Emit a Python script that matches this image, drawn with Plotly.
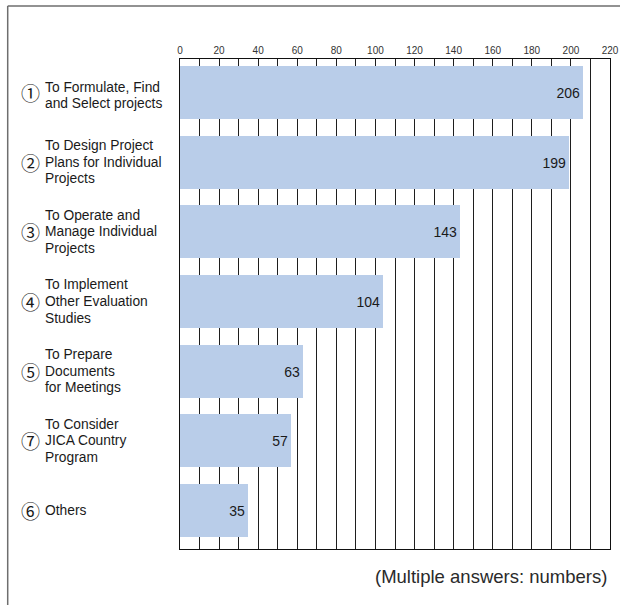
import plotly.graph_objects as go

# ---- data ----
numbers = ["①", "②", "③", "④", "⑤", "⑦", "⑥"]
labels = [
    "To Formulate, Find<br>and Select projects",
    "To Design Project<br>Plans for Individual<br>Projects",
    "To Operate and<br>Manage Individual<br>Projects",
    "To Implement<br>Other Evaluation<br>Studies",
    "To Prepare<br>Documents<br>for Meetings",
    "To Consider<br>JICA Country<br>Program",
    "Others",
]
values = [206, 199, 143, 104, 63, 57, 35]
x_ticks = list(range(0, 221, 20))
footnote = "(Multiple answers: numbers)"

# ---- layout constants (pixels) ----
W, H = 620, 605
ML, MR, MT, MB = 179.5, 10, 59, 56
PW = W - ML - MR
PH = H - MT - MB

FONT = "Liberation Sans, Arial, Helvetica, sans-serif"
BAR_COLOR = "#b9cde9"

pos = list(range(len(values)))

fig = go.Figure()
fig.add_trace(go.Bar(
    x=values,
    y=pos,
    orientation="h",
    width=0.76,
    marker=dict(color=BAR_COLOR, line=dict(width=0)),
    text=[str(v) for v in values],
    textposition="inside",
    insidetextanchor="end",
    textfont=dict(family=FONT, size=14, color="#1a1a1a"),
    hoverinfo="skip",
))

annotations = []
LINE = 16.7
for i, (num, lab) in enumerate(zip(numbers, labels)):
    lines = lab.split("<br>")
    n = len(lines)
    for k, ln in enumerate(lines):
        off = (k - (n - 1) / 2) * LINE
        if n == 2:
            off += 3
        annotations.append(dict(
            text=ln, xref="paper", yref="y",
            x=(42 - ML) / PW, y=i, yshift=-off,
            xanchor="left", yanchor="middle", showarrow=False,
            font=dict(family=FONT, size=13.8, color="#1a1a1a"),
        ))
    annotations.append(dict(
        text=num, xref="paper", yref="y",
        x=(30 - ML) / PW, y=i, yshift=0,
        xanchor="center", yanchor="middle", showarrow=False,
        font=dict(family="Noto Sans CJK JP", size=19, color="#1a1a1a"),
    ))

annotations.append(dict(
    text=footnote, xref="paper", yref="paper",
    x=(609 - ML) / PW, y=-(576 - (MT + PH)) / PH,
    xanchor="right", yanchor="middle", showarrow=False,
    font=dict(family=FONT, size=18.5, color="#2a2a2a"),
))

# outer frame (left and top lines)
fx = (7 - ML) / PW
fy_top = 1 + (MT - 6) / PH
fy_bot = -(MB + 2) / PH
fx_right = 1 + (MR + 2) / PW
shapes = [
    dict(type="line", xref="paper", yref="paper", x0=fx, x1=fx, y0=fy_top, y1=fy_bot,
         line=dict(color="#6e6e6e", width=1.5)),
    dict(type="line", xref="paper", yref="paper", x0=fx, x1=fx_right, y0=fy_top, y1=fy_top,
         line=dict(color="#6e6e6e", width=1.5)),
]

fig.update_layout(
    width=W, height=H, autosize=False,
    margin=dict(l=ML, r=MR, t=MT, b=MB, pad=0, autoexpand=False),
    paper_bgcolor="white", plot_bgcolor="white",
    showlegend=False,
    bargap=0,
    annotations=annotations,
    shapes=shapes,
    xaxis=dict(
        side="top", range=[0, 220],
        tickvals=x_ticks, ticktext=[str(t) for t in x_ticks],
        ticks="", tickfont=dict(family=FONT, size=10, color="#333333"),
        showgrid=True, gridcolor="#1e1e1e", gridwidth=1,
        minor=dict(dtick=10, tick0=0, showgrid=True, gridcolor="#1e1e1e", gridwidth=1),
        showline=True, linecolor="#111111", linewidth=1, mirror=True,
        zeroline=False, fixedrange=True,
    ),
    yaxis=dict(
        range=[6.552, -0.481], showticklabels=False, ticks="",
        showgrid=False, zeroline=False,
        showline=True, linecolor="#111111", linewidth=1, mirror=True,
        fixedrange=True,
    ),
)

fig.write_html("out.html", config=dict(displayModeBar=False, responsive=False))
